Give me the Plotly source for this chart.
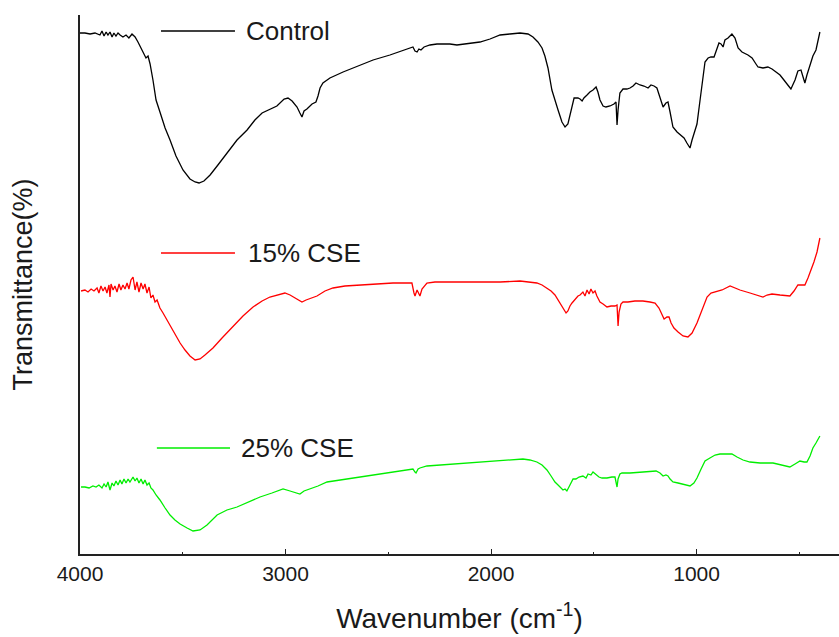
import plotly.graph_objects as go

# ---- data ----
control_wn = [4000, 3976, 3951, 3927, 3903, 3893, 3883, 3873, 3864, 3854, 3844, 3835, 3825, 3815, 3805, 3791, 3776, 3762, 3747, 3732,
              3718, 3703, 3693, 3679, 3669, 3659, 3645, 3630, 3611, 3586, 3562, 3533, 3499, 3465, 3440, 3421, 3397, 3367, 3329, 3285,
              3236, 3187, 3149, 3114, 3076, 3042, 3007, 2988, 2968, 2944, 2930, 2920, 2910, 2896, 2871, 2852, 2842, 2832, 2818, 2784,
              2720, 2647, 2574, 2492, 2419, 2390, 2380, 2370, 2360, 2351, 2341, 2326, 2297, 2263, 2200, 2166, 2127, 2054, 2005, 1956,
              1908, 1859, 1820, 1796, 1772, 1752, 1738, 1723, 1704, 1689, 1674, 1655, 1640, 1626, 1616, 1606, 1596, 1577, 1567, 1557,
              1548, 1533, 1519, 1504, 1489, 1480, 1470, 1455, 1441, 1421, 1402, 1392, 1387, 1382, 1373, 1358, 1339, 1324, 1309, 1295,
              1275, 1256, 1236, 1222, 1207, 1193, 1178, 1163, 1149, 1139, 1129, 1115, 1095, 1076, 1061, 1047, 1032, 1022, 1008, 998,
              983, 969, 959, 944, 930, 915, 901, 891, 881, 871, 862, 847, 828, 813, 798, 779, 750, 730, 711, 701,
              677, 653, 633, 614, 594, 575, 555, 541, 521, 507, 492, 482, 473, 463, 448, 434, 419, 409, 400]
control_t = [521, 521, 520, 521, 519, 523, 518, 522, 519, 522, 517, 521, 518, 521, 519, 517, 519, 516, 520, 517,
             512, 506, 502, 496, 498, 490, 474, 454, 442, 426, 414, 398, 384, 375, 372, 371, 373, 379, 389, 401,
             414, 424, 434, 441, 445, 448, 455, 456, 453, 447, 441, 437, 443, 445, 450, 452, 458, 466, 471, 476,
             482, 488, 494, 499, 504, 506, 507, 503, 502, 505, 504, 507, 509, 510, 510, 509, 510, 512, 515, 519,
             520, 521, 520, 517, 512, 506, 498, 486, 464, 453, 444, 432, 427, 430, 439, 448, 456, 456, 455, 453,
             456, 459, 462, 464, 467, 462, 454, 448, 447, 448, 450, 452, 429, 444, 461, 465, 465, 466, 468, 471,
             469, 468, 466, 469, 468, 466, 456, 447, 451, 452, 442, 427, 422, 419, 416, 411, 406, 414, 424, 430,
             454, 479, 492, 496, 497, 497, 506, 511, 510, 507, 514, 516, 520, 516, 506, 502, 499, 496, 490, 487,
             486, 487, 485, 482, 479, 474, 468, 465, 474, 483, 484, 478, 471, 479, 489, 498, 504, 512, 522]

cse15_wn = [3995, 3976, 3961, 3946, 3932, 3917, 3908, 3898, 3888, 3878, 3869, 3859, 3854, 3849, 3839, 3830, 3820, 3810, 3801, 3791,
            3781, 3771, 3762, 3752, 3742, 3732, 3723, 3713, 3703, 3693, 3684, 3674, 3664, 3655, 3645, 3635, 3625, 3611, 3596, 3582,
            3562, 3538, 3513, 3489, 3465, 3440, 3416, 3392, 3353, 3309, 3256, 3207, 3158, 3114, 3076, 3037, 3003, 2978, 2954, 2920,
            2900, 2871, 2847, 2808, 2769, 2711, 2638, 2565, 2477, 2419, 2385, 2375, 2370, 2360, 2351, 2346, 2336, 2312, 2273, 2248,
            2151, 2020, 1956, 1859, 1811, 1777, 1752, 1728, 1708, 1689, 1674, 1665, 1655, 1645, 1635, 1626, 1616, 1606, 1592, 1577,
            1567, 1553, 1543, 1533, 1523, 1514, 1504, 1494, 1485, 1470, 1455, 1436, 1416, 1397, 1387, 1382, 1377, 1368, 1358, 1334,
            1300, 1261, 1227, 1202, 1183, 1168, 1158, 1144, 1134, 1124, 1110, 1090, 1066, 1042, 1022, 998, 974, 949, 930, 906,
            876, 837, 813, 789, 740, 691, 677, 657, 633, 594, 560, 546, 526, 507, 487, 473, 458, 443, 429, 414,
            404, 400]
cse15_t = [263, 264, 262, 265, 263, 266, 261, 268, 263, 267, 261, 269, 257, 270, 264, 268, 262, 270, 264, 269,
           265, 271, 265, 274, 277, 264, 272, 262, 271, 265, 270, 261, 267, 256, 259, 252, 254, 246, 241, 236,
           228, 220, 211, 204, 198, 194, 195, 199, 206, 216, 227, 238, 247, 253, 257, 259, 261, 259, 256, 252,
           254, 256, 258, 263, 266, 268, 269, 270, 271, 271, 271, 261, 258, 264, 261, 258, 265, 271, 272, 272,
           272, 272, 272, 273, 272, 271, 269, 266, 263, 259, 254, 250, 247, 244, 241, 243, 248, 251, 255, 258,
           259, 262, 258, 264, 260, 265, 261, 263, 258, 252, 250, 247, 248, 248, 249, 228, 242, 250, 252, 252,
           253, 253, 252, 251, 246, 240, 235, 237, 237, 231, 226, 222, 218, 217, 221, 231, 244, 257, 261, 262,
           264, 268, 266, 264, 261, 258, 257, 259, 260, 259, 258, 258, 263, 269, 269, 269, 276, 284, 292, 302,
           312, 316]

cse25_wn = [3995, 3976, 3956, 3937, 3922, 3908, 3893, 3883, 3873, 3864, 3854, 3844, 3835, 3825, 3815, 3805, 3796, 3786, 3776, 3766,
            3757, 3742, 3732, 3723, 3713, 3703, 3693, 3684, 3674, 3664, 3655, 3645, 3630, 3611, 3586, 3562, 3538, 3513, 3479, 3450,
            3416, 3382, 3333, 3285, 3236, 3183, 3124, 3066, 3012, 2978, 2949, 2930, 2910, 2881, 2842, 2798, 2735, 2638, 2540, 2477,
            2419, 2380, 2370, 2365, 2355, 2346, 2312, 2248, 2151, 2088, 2005, 1932, 1845, 1811, 1777, 1752, 1728, 1708, 1689, 1674,
            1660, 1650, 1640, 1631, 1621, 1611, 1601, 1587, 1572, 1553, 1538, 1528, 1514, 1504, 1489, 1475, 1460, 1436, 1412, 1397,
            1387, 1382, 1373, 1363, 1324, 1275, 1227, 1197, 1178, 1163, 1149, 1139, 1129, 1115, 1090, 1066, 1047, 1032, 1013, 998,
            978, 959, 935, 910, 886, 852, 828, 803, 774, 740, 691, 628, 584, 546, 521, 497, 477, 463, 448, 434,
            419, 409, 400]
cse25_t = [67, 67, 66, 68, 67, 69, 66, 70, 67, 72, 64, 71, 68, 73, 69, 74, 70, 75, 71, 75,
           72, 77, 73, 76, 71, 75, 70, 74, 69, 71, 66, 64, 59, 54, 46, 39, 34, 30, 26, 23,
           24, 29, 39, 44, 47, 52, 57, 61, 65, 63, 61, 60, 63, 65, 68, 72, 74, 77, 80, 82,
           84, 85, 82, 81, 85, 86, 88, 89, 90, 91, 93, 94, 95, 94, 92, 89, 84, 78, 72, 69,
           66, 64, 65, 63, 67, 71, 75, 75, 77, 78, 76, 80, 79, 82, 79, 77, 76, 76, 77, 77,
           67, 75, 80, 81, 81, 82, 83, 83, 81, 78, 79, 78, 75, 72, 71, 70, 69, 68, 71, 76,
           85, 93, 96, 99, 100, 100, 100, 97, 94, 92, 91, 91, 89, 87, 90, 93, 92, 92, 98, 106,
           111, 114, 118]

series_names = ["Control", "15% CSE", "25% CSE"]
series_colors = ["#000000", "#ff0000", "#00ee00"]
tick_vals = [4000, 3000, 2000, 1000]
tick_text = ["4000", "3000", "2000", "1000"]
minor_tick_vals = [3500, 2500, 1500, 500]

# label positions (line segment start/end in cm-1, and level in transmittance units)
label_seg_start = [3606, 3606, 3626]
label_seg_end = [3246, 3246, 3270]
label_text_x = [3200, 3190, 3225]
label_level = [523, 301, 106]

FONT = "Arial, Liberation Sans, sans-serif"

fig = go.Figure()
for wn, t, name, col in zip([control_wn, cse15_wn, cse25_wn], [control_t, cse15_t, cse25_t],
                            series_names, series_colors):
    fig.add_trace(go.Scatter(x=wn, y=t, mode="lines", name=name,
                             line=dict(color=col, width=1.3), showlegend=False))

for i, name in enumerate(series_names):
    fig.add_shape(type="line", xref="x", yref="y",
                  x0=label_seg_start[i], x1=label_seg_end[i], y0=label_level[i], y1=label_level[i],
                  line=dict(color=series_colors[i], width=1.3))
    fig.add_annotation(x=label_text_x[i], y=label_level[i], xref="x", yref="y", text=name,
                       showarrow=False, xanchor="left", yanchor="middle",
                       font=dict(family=FONT, size=26, color="#1a1a1a"))

fig.update_layout(
    width=839, height=637,
    margin=dict(l=80, r=0, t=15, b=83),
    paper_bgcolor="white", plot_bgcolor="white",
    font=dict(family=FONT, color="#1a1a1a"),
)
fig.update_xaxes(
    range=[4000, 307], showline=True, linecolor="#222", linewidth=1.5,
    showgrid=False, zeroline=False,
    tickmode="array", tickvals=tick_vals, ticktext=tick_text,
    ticks="inside", ticklen=5, tickcolor="#222", tickwidth=1,
    tickfont=dict(family=FONT, size=21, color="#1a1a1a"),
    minor=dict(tickmode="array", tickvals=minor_tick_vals, ticks="inside", ticklen=2, tickcolor="#222"),
    title=dict(text="Wavenumber (cm<sup>-1</sup>)", font=dict(family=FONT, size=28, color="#1a1a1a"), standoff=24),
)
fig.update_yaxes(
    range=[0, 539], showline=True, linecolor="#222", linewidth=1.5,
    showgrid=False, zeroline=False, showticklabels=False, ticks="",
    title=dict(text="Transmittance(%)", font=dict(family=FONT, size=27, color="#1a1a1a"), standoff=38),
)

fig.write_html("out.html")
